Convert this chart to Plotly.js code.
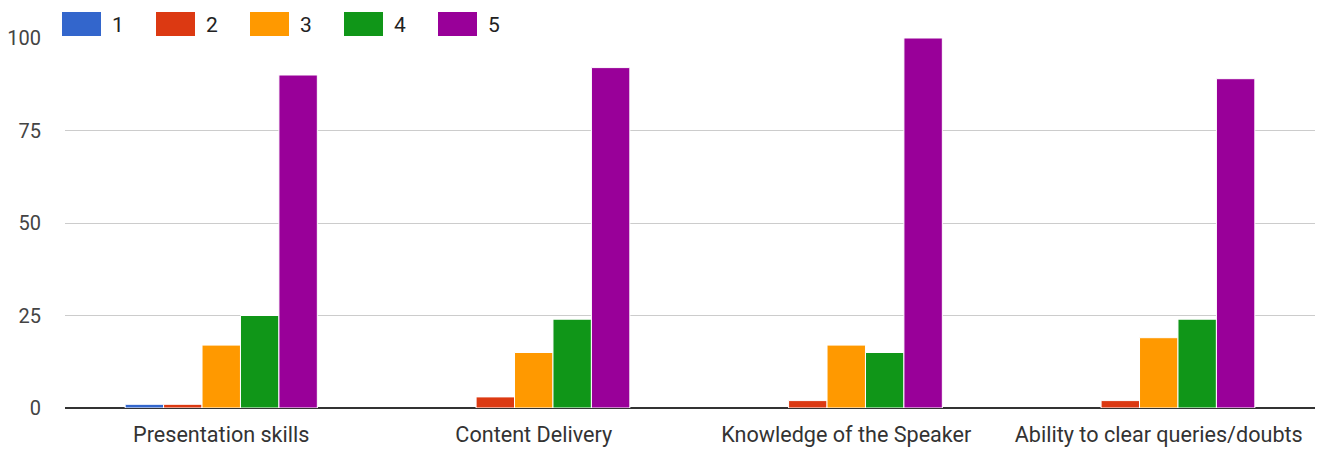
<!DOCTYPE html>
<html>
<head>
<meta charset="utf-8">
<script src="https://cdn.plot.ly/plotly-3.0.1.min.js"></script>
<style>html,body{margin:0;padding:0;background:#fff}#chart{width:1323px;height:453px}</style>
</head>
<body>
<div id="chart"></div>
<script>
var categories = ["Presentation skills", "Content Delivery", "Knowledge of the Speaker", "Ability to clear queries/doubts"];
var seriesNames = ["1", "2", "3", "4", "5"];
var rating1 = [1, 0, 0, 0];
var rating2 = [1, 3, 2, 2];
var rating3 = [17, 15, 17, 19];
var rating4 = [25, 24, 15, 24];
var rating5 = [90, 92, 100, 89];
var yTicks = [0, 25, 50, 75, 100];

var seriesValues = [rating1, rating2, rating3, rating4, rating5];
var colors = ["#3366cc", "#dc3912", "#ff9900", "#109618", "#990099"];

var W = 1323, H = 453;
var margin = {l: 65, r: 8, t: 38, b: 45};
var plotW = W - margin.l - margin.r;
var plotH = H - margin.t - margin.b;

var traces = seriesValues.map(function (vals, i) {
  return {
    type: "bar",
    name: seriesNames[i],
    x: categories,
    y: vals,
    marker: {
      color: colors[i],
      line: {color: "#ffffff", width: vals.map(function (v) { return v > 0 ? 1 : 0; })}
    },
    hoverinfo: "x+y+name"
  };
});

// Legend drawn as layout shapes/annotations (large Google-style swatches)
var shapes = [], annotations = [];
function px2paperX(px) { return (px - margin.l) / plotW; }
function px2paperY(py) { return (H - margin.b - py) / plotH; }
seriesNames.forEach(function (n, i) {
  var x0 = 62 + i * 94;
  shapes.push({
    type: "rect", xref: "paper", yref: "paper",
    x0: px2paperX(x0), x1: px2paperX(x0 + 39),
    y0: px2paperY(36), y1: px2paperY(12),
    fillcolor: colors[i], line: {width: 0}, layer: "above"
  });
  annotations.push({
    xref: "paper", yref: "paper",
    x: px2paperX(x0 + 48), y: px2paperY(25),
    xanchor: "left", yanchor: "middle", showarrow: false,
    text: n, font: {family: "Roboto, Arial, sans-serif", size: 21, color: "#222222"}
  });
});

var layout = {
  width: W, height: H,
  margin: margin,
  paper_bgcolor: "#ffffff", plot_bgcolor: "#ffffff",
  barmode: "group",
  bargap: 0.385,
  bargroupgap: 0,
  showlegend: false,
  font: {family: "Roboto, Arial, sans-serif", size: 20, color: "#444444"},
  xaxis: {
    showgrid: false, zeroline: false, showline: false,
    ticks: "", ticklabelstandoff: 11,
    tickfont: {size: 21.6, color: "#333333"},
    fixedrange: true
  },
  yaxis: {
    range: [0, 100],
    tickvals: yTicks, ticktext: yTicks.map(String),
    showgrid: true, gridcolor: "#cccccc", gridwidth: 1,
    zeroline: true, zerolinecolor: "#333333", zerolinewidth: 2,
    showline: false, ticks: "", ticklabelstandoff: 23,
    tickfont: {size: 20, color: "#444444"},
    fixedrange: true
  },
  shapes: shapes,
  annotations: annotations
};

Plotly.newPlot("chart", traces, layout, {displayModeBar: false, staticPlot: true});
</script>
</body>
</html>
